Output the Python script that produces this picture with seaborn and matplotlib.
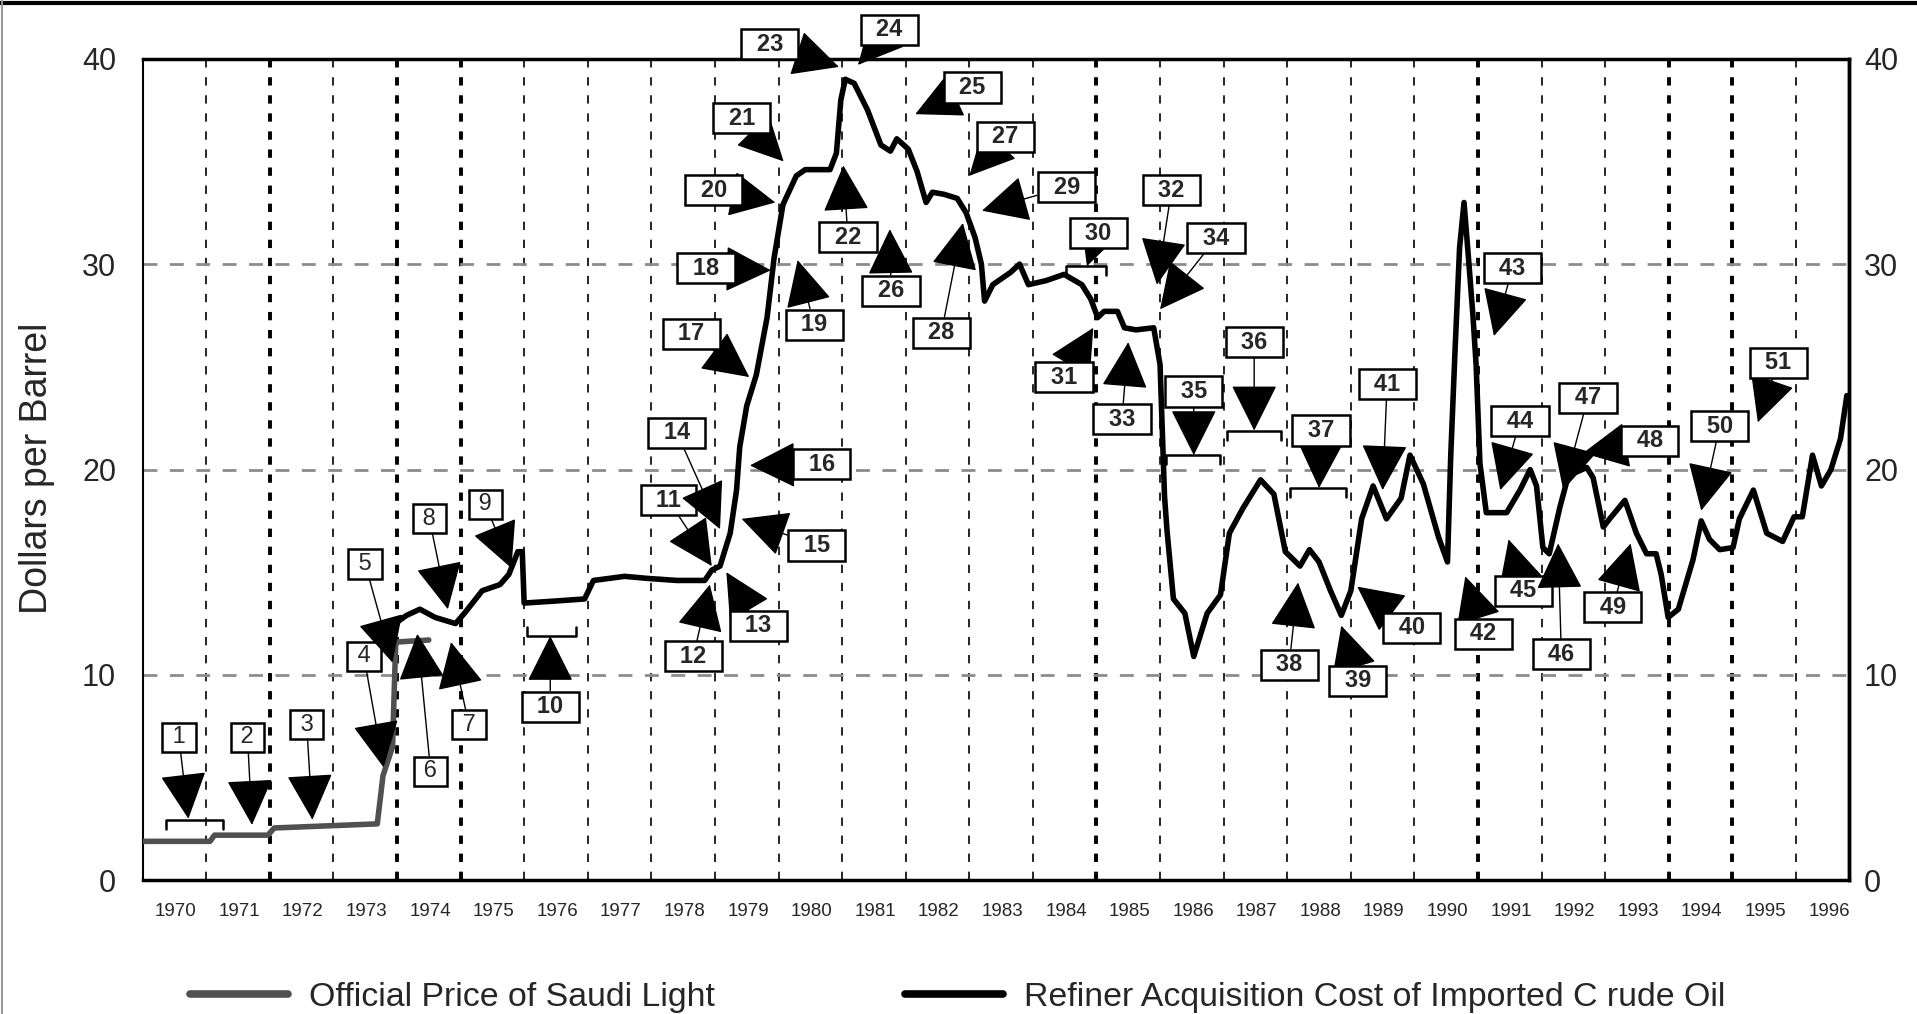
import matplotlib
matplotlib.use("Agg")
import matplotlib.pyplot as plt
import seaborn as sns
from matplotlib.lines import Line2D

# ==========================================
# DATA
# ==========================================

YEARS = list(range(1970, 1997))
THICK_GRID_YEARS = [1972, 1974, 1975, 1985, 1991, 1994, 1995]

# Official Price of Saudi Light
SAUDI_X = [1970.00, 1971.06, 1971.13, 1971.97, 1972.07, 1973.69, 1973.78,
           1973.93, 1973.98, 1974.50]
SAUDI_Y = [1.9, 1.9, 2.2, 2.2, 2.55, 2.75, 5.1, 6.5, 11.6, 11.7]

# Refiner Acquisition Cost of Imported Crude Oil
RAC_X = [1973.97, 1974.15, 1974.36, 1974.60, 1974.92, 1975.06, 1975.34, 1975.62,
         1975.76, 1975.90, 1975.97, 1976.00, 1976.50, 1976.95, 1977.09, 1977.58,
         1977.94, 1978.40, 1978.84, 1978.95, 1979.08, 1979.24, 1979.34, 1979.39,
         1979.50, 1979.65, 1979.82, 1979.93, 1980.07, 1980.28, 1980.42, 1980.81,
         1980.91, 1980.98, 1981.05, 1981.19, 1981.40, 1981.61, 1981.76, 1981.86,
         1982.04, 1982.18, 1982.32, 1982.42, 1982.60, 1982.81, 1982.95, 1983.09,
         1983.19, 1983.24, 1983.37, 1983.51, 1983.65, 1983.79, 1983.93, 1984.21,
         1984.49, 1984.77, 1984.91, 1985.02, 1985.12, 1985.33, 1985.44, 1985.62,
         1985.90, 1986.00, 1986.07, 1986.11, 1986.21, 1986.39, 1986.53, 1986.74,
         1986.95, 1987.09, 1987.30, 1987.58, 1987.79, 1987.97, 1988.20, 1988.35,
         1988.50, 1988.68, 1988.85, 1989.00, 1989.17, 1989.35, 1989.56, 1989.79,
         1989.93, 1990.14, 1990.38, 1990.52, 1990.57, 1990.64, 1990.71, 1990.78,
         1990.85, 1990.92, 1990.97, 1991.03, 1991.13, 1991.45, 1991.66, 1991.82,
         1991.92, 1992.02, 1992.12, 1992.29, 1992.42, 1992.71, 1992.81, 1992.97,
         1993.07, 1993.31, 1993.49, 1993.65, 1993.80, 1993.88, 1993.99, 1994.15,
         1994.38, 1994.51, 1994.64, 1994.80, 1995.01, 1995.11, 1995.33, 1995.54,
         1995.79, 1995.97, 1996.10, 1996.26, 1996.40, 1996.55, 1996.70, 1996.80]
RAC_Y = [12.5, 12.9, 13.2, 12.8, 12.5, 13.0, 14.1, 14.4,
         14.9, 16.0, 16.0, 13.5, 13.6, 13.7, 14.6, 14.8,
         14.7, 14.6, 14.6, 15.1, 15.3, 16.9, 19.0, 21.1,
         23.1, 24.6, 27.4, 30.3, 32.9, 34.3, 34.6, 34.6,
         35.4, 38.0, 39.0, 38.8, 37.5, 35.8, 35.5, 36.1,
         35.6, 34.5, 33.0, 33.5, 33.4, 33.2, 32.5, 31.3,
         30.0, 28.2, 29.0, 29.3, 29.6, 30.0, 29.0, 29.2,
         29.5, 29.0, 28.3, 27.4, 27.7, 27.7, 26.9, 26.8,
         26.9, 25.1, 18.7, 17.0, 13.7, 13.0, 10.9, 13.0,
         13.9, 16.9, 18.1, 19.5, 18.8, 16.0, 15.3, 16.1,
         15.5, 14.1, 12.9, 14.1, 17.6, 19.2, 17.6, 18.6,
         20.7, 19.3, 16.7, 15.5, 20.6, 25.9, 30.8, 33.0,
         30.3, 27.5, 25.1, 20.3, 17.9, 17.9, 19.0, 20.0,
         19.2, 16.2, 15.9, 18.2, 19.7, 20.1, 19.6, 17.2,
         17.6, 18.5, 16.9, 15.9, 15.9, 14.9, 12.8, 13.2,
         15.6, 17.5, 16.6, 16.1, 16.2, 17.6, 19.0, 16.9,
         16.5, 17.7, 17.7, 20.7, 19.2, 20.0, 21.5, 23.6]

# numbered events: label box centre and arrow tip
EVENT_NUM = list(range(1, 52))
EVENT_BOX_X = [1970.57, 1971.65, 1972.58, 1973.48, 1973.50, 1974.53, 1975.13, 1974.51,
               1975.39, 1976.41, 1978.27, 1978.66, 1979.68, 1978.40, 1980.60, 1980.68,
               1978.63, 1978.86, 1980.56, 1978.98, 1979.42, 1981.09, 1979.86, 1981.74,
               1983.05, 1981.77, 1983.57, 1982.56, 1984.53, 1985.03, 1984.49, 1986.18,
               1985.40, 1986.88, 1986.53, 1987.48, 1988.53, 1988.03, 1989.11, 1989.96,
               1989.57, 1991.08, 1991.54, 1991.66, 1991.71, 1992.31, 1992.73, 1993.70,
               1993.12, 1994.80, 1995.72]
EVENT_BOX_Y = [6.96, 6.96, 7.58, 10.9, 15.4, 5.3, 7.58, 17.6,
               18.3, 8.46, 18.5, 10.9, 12.4, 21.8, 16.3, 20.25,
               26.6, 29.8, 27.05, 33.6, 37.1, 31.3, 40.7, 41.4,
               38.6, 28.7, 36.2, 26.65, 33.75, 31.5, 24.5, 33.6,
               22.45, 31.25, 23.8, 26.2, 21.9, 10.5, 9.72, 12.3,
               24.15, 12.0, 29.8, 22.35, 14.1, 11.0, 23.5, 21.4,
               13.3, 22.1, 25.2]
EVENT_TIP_X = [1970.72, 1971.72, 1972.67, 1973.79, 1973.93, 1974.32, 1974.85, 1974.80,
               1975.80, 1976.41, 1978.95, 1978.92, 1979.18, 1979.08, 1979.42, 1979.55,
               1979.54, 1979.88, 1980.30, 1979.95, 1980.08, 1981.02, 1980.95, 1981.25,
               1982.15, 1981.75, 1983.00, 1982.90, 1983.20, 1984.85, 1984.95, 1985.95,
               1985.50, 1986.00, 1986.53, 1987.48, 1988.50, 1988.17, 1988.85, 1989.10,
               1989.50, 1990.80, 1991.25, 1991.35, 1991.48, 1992.26, 1992.34, 1992.65,
               1993.40, 1994.51, 1995.40]
EVENT_TIP_Y = [3.0, 2.7, 2.95, 5.5, 10.6, 12.0, 11.6, 13.2,
               15.2, 11.9, 15.3, 14.4, 15.0, 17.1, 17.6, 20.2,
               24.5, 29.7, 30.2, 33.0, 35.0, 34.8, 39.6, 39.7,
               37.3, 31.7, 34.3, 32.0, 32.6, 29.9, 26.9, 29.0,
               26.2, 27.8, 20.7, 21.9, 19.1, 14.5, 12.4, 14.3,
               19.0, 14.8, 26.5, 19.0, 16.6, 16.4, 19.0, 20.8,
               16.4, 18.0, 22.3]

# events that cover a period: bracket span and level
BRACKET_START = [1970.36, 1976.04, 1984.52, 1986.10, 1987.05, 1988.05]
BRACKET_END = [1971.27, 1976.81, 1985.15, 1986.95, 1987.90, 1988.93]
BRACKET_LEVEL = [2.95, 11.9, 29.9, 20.7, 21.9, 19.1]
BRACKET_SIDE = [-1, 1, -1, -1, -1, -1]

LEGEND_LABELS = ["Official Price of Saudi Light",
                 "Refiner Acquisition Cost of Imported C rude Oil"]

# ==========================================
# STYLE
# ==========================================

sns.set_style("white")
plt.rcParams["font.family"] = ["Liberation Sans", "DejaVu Sans"]
plt.rcParams["lines.scale_dashes"] = False

fig = plt.figure(figsize=(19.17, 10.14), dpi=100)
ax = fig.add_axes([0.0744, 0.1318, 0.89, 0.8103])

# ==========================================
# GRID
# ==========================================

for yr in YEARS[1:]:
    ax.axvline(yr, color="black", ls=(0, (6, 7)),
               lw=2.8 if yr in THICK_GRID_YEARS else 1.2, zorder=1)

for v in [10, 20, 30]:
    ax.axhline(v, color="#8c8c8c", ls=(0, (10, 9)), lw=2, zorder=1)

# ==========================================
# LINES
# ==========================================

sns.lineplot(x=SAUDI_X, y=SAUDI_Y, ax=ax, color="#505050", lw=4,
             estimator=None, sort=False, zorder=3)
sns.lineplot(x=RAC_X, y=RAC_Y, ax=ax, color="black", lw=4,
             estimator=None, sort=False, zorder=4)

# ==========================================
# EVENT LABELS
# ==========================================

for s, e, lvl, side in zip(BRACKET_START, BRACKET_END, BRACKET_LEVEL, BRACKET_SIDE):
    ax.plot([s, s, e, e], [lvl + 0.45 * side, lvl, lvl, lvl + 0.45 * side],
            color="black", lw=1.8, zorder=5)

for num, bx, by, tx, ty in zip(EVENT_NUM, EVENT_BOX_X, EVENT_BOX_Y,
                                EVENT_TIP_X, EVENT_TIP_Y):
    txt = f"\u2002{num}\u2002" if num >= 10 else f" {num} "
    ax.annotate(
        txt,
        xy=(tx, ty),
        xytext=(bx, by),
        ha="center",
        va="center",
        fontsize=17,
        fontweight="bold" if num >= 10 else "normal",
        bbox=dict(boxstyle="square,pad=0.15", fc="white", ec="black", lw=1.8),
        arrowprops=dict(arrowstyle="-|>,head_length=1.0,head_width=0.5",
                        mutation_scale=30, color="black", lw=1.0,
                        shrinkA=0, shrinkB=0),
        annotation_clip=False,
        zorder=6,
    )

# ==========================================
# AXES
# ==========================================

ax.set_xlim(1970, 1996.83)
ax.set_ylim(0, 40)

ax.set_xticks([y + 0.52 for y in YEARS])
ax.set_xticklabels([str(y) for y in YEARS])
ax.tick_params(axis="x", length=0, labelsize=13.5, pad=16)

ax.set_yticks([0, 10, 20, 30, 40])
ax.set_yticks([5, 15, 25, 35], minor=True)
ax.tick_params(axis="y", which="major", direction="inout", length=14, width=1.5,
               color="#8c8c8c", labelsize=22, pad=12)
ax.tick_params(axis="y", which="minor", direction="inout", length=7, width=1.5,
               color="#8c8c8c")

sec = ax.secondary_yaxis("right")
sec.set_yticks([0, 10, 20, 30, 40])
sec.tick_params(length=0, labelsize=22, pad=11)
sec.spines["right"].set_linewidth(2.5)

for side in ["top", "bottom", "right"]:
    ax.spines[side].set_linewidth(2.5)
    ax.spines[side].set_color("black")
ax.spines["left"].set_linewidth(1.5)
ax.spines["left"].set_color("black")

ax.set_xlabel("")
ax.set_ylabel("")
fig.text(0.0193, 0.5385, "Dollars per Barrel", rotation=90, ha="center",
         va="center", fontsize=27)

# ==========================================
# LEGEND + FRAME
# ==========================================

handles = [Line2D([], [], color="#505050", lw=5.5),
           Line2D([], [], color="black", lw=5.5)]
fig.legend(handles, LEGEND_LABELS, loc="center left",
           bbox_to_anchor=(190 / 1917, 0.016), ncol=2, frameon=False,
           fontsize=24.4, handlelength=2.9, handletextpad=0.62,
           columnspacing=5.6, borderpad=0, borderaxespad=0)

fig.add_artist(Line2D([0, 1], [0.997, 0.997], transform=fig.transFigure,
                      color="black", lw=3))
fig.add_artist(Line2D([0.0008, 0.0008], [0, 1], transform=fig.transFigure,
                      color="#999999", lw=1.5))

plt.savefig("out.png", dpi=100)
plt.close()
